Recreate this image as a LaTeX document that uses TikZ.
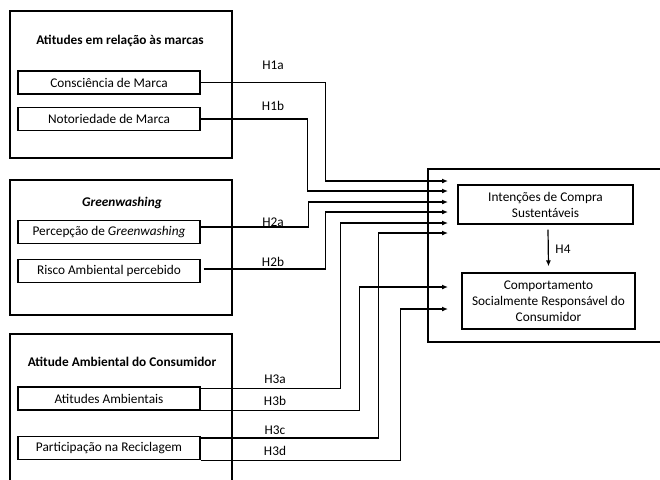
\documentclass[tikz,border=0pt]{standalone}
\usepackage{fontspec}
\setmainfont{Carlito}
\usetikzlibrary{arrows.meta}
\begin{document}
\begin{tikzpicture}[x=1pt,y=-1pt,line width=1.2pt,
  every node/.style={font=\fontsize{13.3}{16}\selectfont},
  inbox/.style={draw,minimum width=182pt,minimum height=23pt,inner sep=0pt},
  conn/.style={-{Latex[length=6pt,width=5pt]}},
  lbl/.style={inner sep=0pt}]
\useasboundingbox (0,0) rectangle (660,479);
% group boxes
\draw (10,11) rectangle (232,158);
\draw (10,180) rectangle (232,315);
\draw (10,490) -- (10,334) -- (232,334) -- (232,490);
\draw (428,169) rectangle (680,342);
% titles
\node (g1) at (120,41) {\bfseries Atitudes em relação às marcas};
\node (g2) at (122,203) {\bfseries\itshape Greenwashing};
\node (g3) at (122,362) {\bfseries Atitude Ambiental do Consumidor};
% inner boxes
\node[inbox] (c1) at (109,82.5) {Consciência de Marca};
\node[inbox] (c2) at (109,119) {Notoriedade de Marca};
\node[inbox] (p1) at (109,232) {Percepção de \textit{Greenwashing}};
\node[inbox] (r1) at (109,271) {Risco Ambiental percebido};
\node[inbox] (a1) at (109,398.5) {Atitudes Ambientais};
\node[inbox] (pr) at (109,448) {Participação na Reciclagem};
\node[draw,minimum width=175pt,minimum height=39pt,align=center,inner sep=0pt] (ints) at (545.5,204.5) {Intenções de Compra\\Sustentáveis};
\node[draw,minimum width=173pt,minimum height=56pt,align=center,inner sep=0pt] (comp) at (548.5,301) {Comportamento\\Socialmente Responsável do\\Consumidor};
% arrow targets
\coordinate (t1) at (448,181);
\coordinate (t2) at (448,191);
\coordinate (t3) at (448,202);
\coordinate (t4) at (448,212);
\coordinate (t5) at (448,223);
\coordinate (t6) at (448,233);
\coordinate (t7) at (448,287);
\coordinate (t8) at (448,309);
% connectors
\draw[conn] (c1.east) -- ++(125,0) |- (t1);
\draw[conn] (c2.east) -- ++(107,0) |- (t2);
\draw[conn] ([yshift=5pt]p1.east) -- ++(108,0) |- (t3);
\draw[conn] ([xshift=3pt,yshift=2pt]r1.east) -- ++(122,0) |- (t4);
\draw[conn] ([yshift=-2pt]a1.north east) -- ++(140,0) |- (t5);
\draw[conn] ([yshift=-2pt]pr.north east) -- ++(178,0) |- (t6);
\draw[conn] (a1.south east) -- ++(159,0) |- (t7);
\draw[conn] (pr.south east) -- ++(200,0) |- (t8);
\draw[conn] ([xshift=2.5pt,yshift=-5pt]ints.south) -- ([yshift=6pt]comp.north);
% labels
\node[lbl] (h1a) at (273,65) {H1a};
\node[lbl] (h1b) at (273,106) {H1b};
\node[lbl] (h2a) at (273,222) {H2a};
\node[lbl] (h2b) at (273,262) {H2b};
\node[lbl] (h3a) at (275,379) {H3a};
\node[lbl] (h3b) at (275,401) {H3b};
\node[lbl] (h3c) at (275,430) {H3c};
\node[lbl] (h3d) at (275,451) {H3d};
\node[lbl] (h4) at (563,249) {H4};
\end{tikzpicture}
\end{document}
